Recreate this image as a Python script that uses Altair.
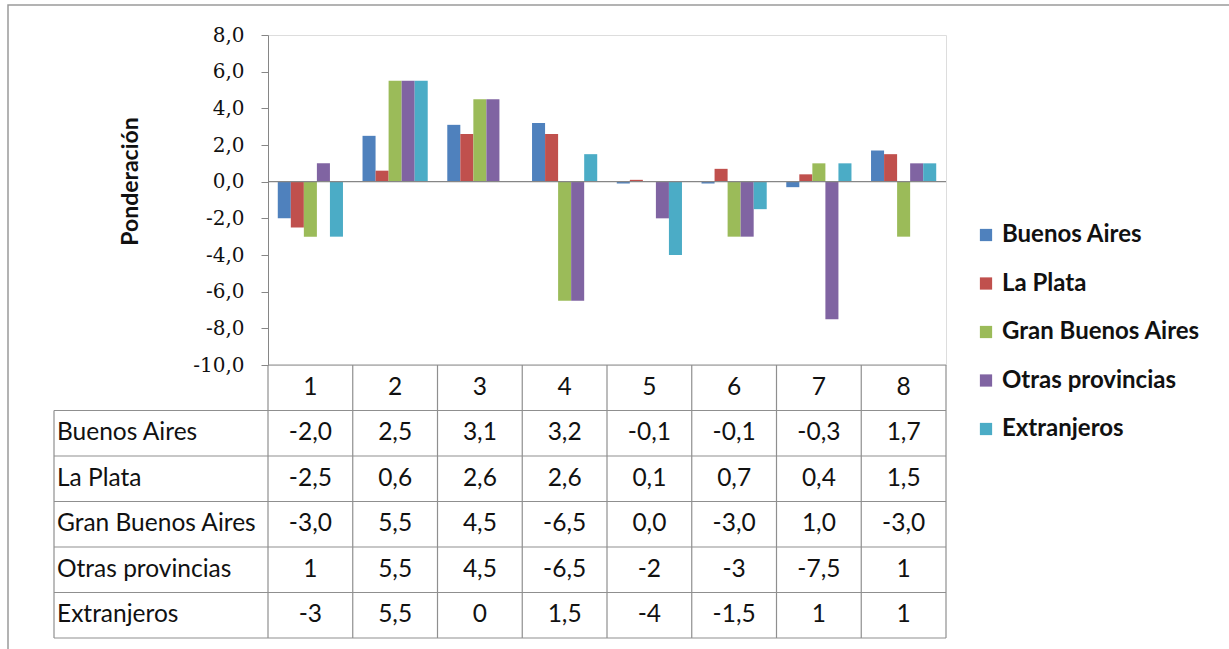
import altair as alt
import pandas as pd

# Categories along the horizontal axis and the five series
categories = ["1", "2", "3", "4", "5", "6", "7", "8"]
series = ["Buenos Aires", "La Plata", "Gran Buenos Aires", "Otras provincias", "Extranjeros"]
colors = ["#4F81BD", "#C0504D", "#9BBB59", "#8064A2", "#4BACC6"]

buenos_aires = [-2.0, 2.5, 3.1, 3.2, -0.1, -0.1, -0.3, 1.7]
la_plata = [-2.5, 0.6, 2.6, 2.6, 0.1, 0.7, 0.4, 1.5]
gran_buenos_aires = [-3.0, 5.5, 4.5, -6.5, 0.0, -3.0, 1.0, -3.0]
otras_provincias = [1, 5.5, 4.5, -6.5, -2, -3, -7.5, 1]
extranjeros = [-3, 5.5, 0, 1.5, -4, -1.5, 1, 1]

# Number style used in the data table for each series ("fixed" = one decimal)
table_style = ["fixed", "fixed", "fixed", "general", "general"]

y_ticks = [-10, -8, -6, -4, -2, 0, 2, 4, 6, 8]
y_domain = [-10, 8]

values = [buenos_aires, la_plata, gran_buenos_aires, otras_provincias, extranjeros]

# Plot-area geometry
W, H = 678, 330
ROW_H = 45.5
TABLE_TOP = H
TABLE_BOTTOM = H + ROW_H * 6
LABEL_COL = -214
GRID = "#8f8f8f"


def fmt(v, style):
    s = f"{v:.1f}" if style == "fixed" else f"{v:g}"
    return s.replace(".", ",")


records = []
for name, vals, style in zip(series, values, table_style):
    for c, v in zip(categories, vals):
        records.append({"cat": c, "series": name, "row": name, "value": v, "label": fmt(v, style)})
df = pd.DataFrame(records)

header_key = "header"
row_keys = [header_key] + series
header_df = pd.DataFrame({"cat": categories, "row": header_key, "label": categories})
rows_df = pd.DataFrame({"row": series})
cats_df = pd.DataFrame({"cat": categories})

x_enc = alt.X("cat:N", sort=categories, axis=None,
              scale=alt.Scale(domain=categories, paddingInner=0, paddingOuter=0))
row_scale = alt.Scale(type="band", domain=row_keys, range=[TABLE_TOP, TABLE_BOTTOM],
                      paddingInner=0, paddingOuter=0)

bars = alt.Chart(df).mark_bar().encode(
    x=x_enc,
    xOffset=alt.XOffset("series:N", sort=series,
                        scale=alt.Scale(domain=series, paddingInner=0, paddingOuter=0.75)),
    y=alt.Y("value:Q",
            scale=alt.Scale(domain=y_domain, nice=False, zero=True),
            axis=alt.Axis(values=y_ticks, grid=False,
                          labelExpr="replace(replace(format(datum.value, '.1f'), '.', ','), '\u2212', '-')",
                          labelFont="DejaVu Serif", labelFontSize=20, labelColor="#111111",
                          labelPadding=17, tickSize=7, tickColor="#868686",
                          domainColor="#868686", title="Ponderación",
                          titleFont="Lato", titleFontSize=23, titleFontWeight="bold",
                          titleColor="#111111", titleAngle=270, titleX=-138, titleY=146,
                          titleAlign="center", titleBaseline="middle")),
    color=alt.Color("series:N", sort=series,
                    scale=alt.Scale(domain=series, range=colors),
                    legend=alt.Legend(title=None, orient="none", legendX=706, legendY=188,
                                      symbolType="square", symbolSize=150,
                                      symbolStrokeWidth=0, labelFont="Lato",
                                      labelFontSize=24, labelFontWeight="bold",
                                      labelColor="#111111", rowPadding=24.5, labelOffset=4,
                                      labelLimit=0, padding=0)),
)

zero_line = alt.Chart(alt.Data(values=[{}])).mark_rule(color="#868686", strokeWidth=1.2).encode(
    y=alt.Y(datum=0, type="quantitative",
            scale=alt.Scale(domain=y_domain, nice=False), axis=None)
)

# Table grid: vertical lines at each category's right edge
v_lines = alt.Chart(cats_df).mark_rule(color=GRID, strokeWidth=1.2).encode(
    x=alt.X("cat:N", sort=categories, bandPosition=1, axis=None,
            scale=alt.Scale(domain=categories, paddingInner=0, paddingOuter=0)),
    y=alt.value(TABLE_TOP), y2=alt.value(TABLE_BOTTOM),
)
left_lines = alt.Chart(pd.DataFrame({"x0": [0]})).mark_rule(color=GRID, strokeWidth=1.2).encode(
    x=alt.value(0), y=alt.value(TABLE_TOP), y2=alt.value(TABLE_BOTTOM),
)
label_col_line = alt.Chart(pd.DataFrame({"x0": [0]})).mark_rule(color=GRID, strokeWidth=1.2).encode(
    x=alt.value(LABEL_COL), y=alt.value(TABLE_TOP + ROW_H), y2=alt.value(TABLE_BOTTOM),
)

# Horizontal lines: top edge of each series row, bottom edge of the last row
h_lines = alt.Chart(rows_df).mark_rule(color=GRID, strokeWidth=1.2).encode(
    y=alt.Y("row:N", bandPosition=0, scale=row_scale, axis=None),
    x=alt.value(LABEL_COL), x2=alt.value(W),
)
bottom_line = alt.Chart(rows_df.tail(1)).mark_rule(color=GRID, strokeWidth=1.2).encode(
    y=alt.Y("row:N", bandPosition=1, scale=row_scale, axis=None),
    x=alt.value(LABEL_COL), x2=alt.value(W),
)
header_line = alt.Chart(pd.DataFrame({"row": [header_key]})).mark_rule(color=GRID, strokeWidth=1.2).encode(
    y=alt.Y("row:N", bandPosition=0, scale=row_scale, axis=None),
    x=alt.value(0), x2=alt.value(W),
)

cell_font = dict(font="Lato", fontSize=24.5, color="#111111", baseline="middle")

header_text = alt.Chart(header_df).mark_text(align="center", **cell_font).encode(
    x=x_enc,
    y=alt.Y("row:N", scale=row_scale, axis=None),
    text="label:N",
)
value_text = alt.Chart(df).mark_text(align="center", **cell_font).encode(
    x=x_enc,
    y=alt.Y("row:N", scale=row_scale, axis=None),
    text="label:N",
)
row_labels = alt.Chart(rows_df).mark_text(align="left", **cell_font).encode(
    x=alt.value(LABEL_COL + 3),
    y=alt.Y("row:N", scale=row_scale, axis=None),
    text="row:N",
)

frame = alt.Chart(alt.Data(values=[{}])).mark_rect(
    fill=None, stroke="#9a9a9a", strokeWidth=1.5
).encode(
    x=alt.value(-260), y=alt.value(-30), x2=alt.value(990), y2=alt.value(640),
)

chart = alt.layer(
    frame, bars, zero_line, v_lines, left_lines, label_col_line, h_lines,
    bottom_line, header_line, header_text, value_text, row_labels,
).resolve_scale(y="independent").properties(
    width=W, height=H,
    autosize=alt.AutoSizeParams(type="none"),
    padding={"left": 268, "top": 35, "right": 283, "bottom": 284},
).configure_view(stroke=None).configure(background="white")

chart.save("out.html", embed_options={"renderer": "svg", "actions": False})
